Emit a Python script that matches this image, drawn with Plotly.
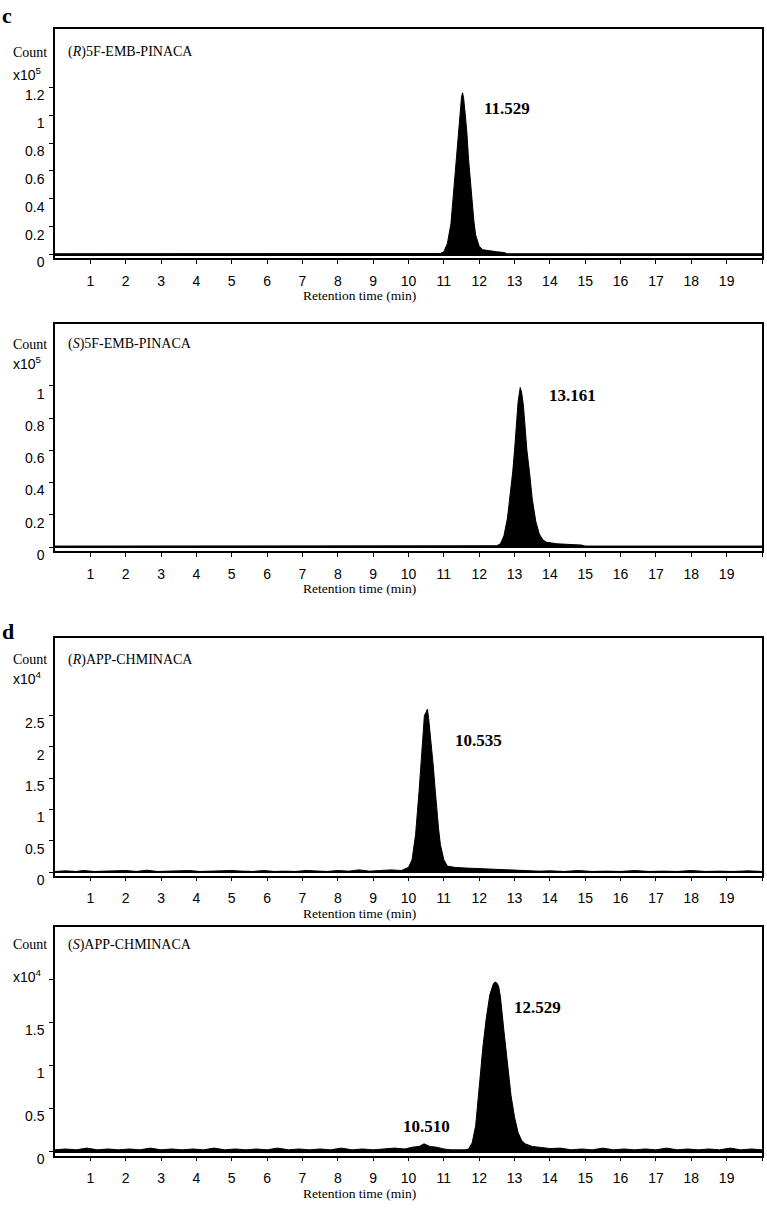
import plotly.graph_objects as go

W, H = 767, 1216

# ---- data ----
# panel c, top: (R)5F-EMB-PINACA, counts x10^5
r5f_time = [0.0, 3.0, 6.0, 9.0, 10.9, 11.0, 11.1, 11.2, 11.3, 11.35, 11.4, 11.45, 11.5, 11.53,
            11.56, 11.6, 11.65, 11.7, 11.75, 11.8, 11.85, 11.9, 12.0, 12.1, 12.3, 12.5, 12.7,
            12.8, 15.0, 18.0, 20.0]
r5f_count = [0.006, 0.006, 0.006, 0.006, 0.008, 0.02, 0.08, 0.22, 0.52, 0.68, 0.85, 1.02, 1.13, 1.16,
             1.12, 1.02, 0.88, 0.68, 0.52, 0.36, 0.24, 0.14, 0.06, 0.035, 0.025, 0.02, 0.015,
             0.006, 0.006, 0.006, 0.006]

# panel c, bottom: (S)5F-EMB-PINACA, counts x10^5
s5f_time = [0.0, 4.0, 8.0, 12.0, 12.5, 12.6, 12.7, 12.8, 12.9, 12.95, 13.0, 13.05, 13.1, 13.16,
            13.2, 13.25, 13.3, 13.35, 13.42, 13.5, 13.6, 13.7, 13.8, 13.9, 14.2, 14.6, 14.9,
            15.0, 17.0, 20.0]
s5f_count = [0.006, 0.006, 0.006, 0.006, 0.008, 0.02, 0.07, 0.18, 0.36, 0.47, 0.6, 0.76, 0.9, 0.99,
             0.96, 0.88, 0.74, 0.6, 0.47, 0.3, 0.16, 0.08, 0.045, 0.03, 0.02, 0.018, 0.012,
             0.006, 0.006, 0.006]

# panel d, top: (R)APP-CHMINACA, counts x10^4
rapp_time = [0.0, 0.3, 0.6, 0.8, 1.1, 1.4, 1.7, 2.0, 2.3, 2.6, 2.9, 3.2, 3.5, 3.8, 4.1, 4.4, 4.7,
             5.0, 5.3, 5.6, 5.9, 6.2, 6.5, 6.8, 7.1, 7.4, 7.7, 8.0, 8.3, 8.6, 8.9, 9.2, 9.5, 9.8,
             9.9, 10.0, 10.1, 10.2, 10.3, 10.35, 10.4, 10.45, 10.5, 10.535, 10.57, 10.6, 10.65,
             10.7, 10.75, 10.8, 10.85, 10.9, 11.0, 11.1, 11.3, 11.6, 12.0, 12.5, 13.0, 13.3,
             13.7, 14.0, 14.4, 14.8, 15.2, 15.6, 16.0, 16.4, 16.8, 17.2, 17.6, 18.0, 18.4,
             18.8, 19.2, 19.6, 20.0]
rapp_count = [0.015, 0.025, 0.015, 0.03, 0.015, 0.02, 0.015, 0.03, 0.015, 0.035, 0.015, 0.02, 0.015,
              0.03, 0.015, 0.02, 0.015, 0.03, 0.02, 0.015, 0.03, 0.015, 0.02, 0.015, 0.03, 0.02,
              0.015, 0.03, 0.02, 0.04, 0.02, 0.03, 0.04, 0.03, 0.05, 0.08, 0.2, 0.6, 1.3, 1.7,
              2.1, 2.5, 2.55, 2.6, 2.45, 2.3, 2.05, 1.7, 1.35, 1.0, 0.7, 0.45, 0.2, 0.1, 0.08,
              0.07, 0.06, 0.05, 0.035, 0.03, 0.02, 0.025, 0.015, 0.03, 0.015, 0.02, 0.015, 0.03,
              0.015, 0.02, 0.015, 0.03, 0.015, 0.02, 0.015, 0.025, 0.015]

# panel d, bottom: (S)APP-CHMINACA, counts x10^4
sapp_time = [0.0, 0.3, 0.6, 0.9, 1.2, 1.5, 1.8, 2.1, 2.4, 2.7, 3.0, 3.3, 3.6, 3.9, 4.2, 4.5, 4.8,
             5.1, 5.4, 5.7, 6.0, 6.3, 6.6, 6.9, 7.2, 7.5, 7.8, 8.1, 8.4, 8.7, 9.0, 9.3, 9.6, 9.9,
             10.1, 10.3, 10.44, 10.6, 10.8, 11.0, 11.2, 11.4, 11.6, 11.7, 11.8, 11.9, 12.0,
             12.05, 12.1, 12.2, 12.3, 12.4, 12.45, 12.5, 12.55, 12.6, 12.7, 12.81, 12.9, 13.0,
             13.1, 13.2, 13.3, 13.5, 13.8, 14.0, 14.3, 14.6, 14.9, 15.2, 15.5, 15.8, 16.1, 16.4,
             16.7, 17.0, 17.3, 17.6, 17.9, 18.2, 18.5, 18.8, 19.1, 19.4, 19.7, 20.0]
sapp_count = [0.02, 0.03, 0.02, 0.04, 0.02, 0.03, 0.02, 0.03, 0.02, 0.04, 0.02, 0.03, 0.02, 0.03,
              0.02, 0.04, 0.02, 0.03, 0.02, 0.03, 0.02, 0.04, 0.02, 0.03, 0.02, 0.03, 0.02, 0.04,
              0.02, 0.03, 0.02, 0.03, 0.04, 0.03, 0.05, 0.06, 0.09, 0.06, 0.05, 0.03, 0.02, 0.02,
              0.02, 0.03, 0.1, 0.3, 0.7, 0.97, 1.2, 1.55, 1.82, 1.95, 1.97, 1.96, 1.92, 1.8, 1.4,
              0.97, 0.65, 0.4, 0.22, 0.13, 0.09, 0.06, 0.05, 0.035, 0.04, 0.02, 0.03, 0.02, 0.04,
              0.02, 0.03, 0.02, 0.03, 0.02, 0.04, 0.02, 0.03, 0.02, 0.03, 0.02, 0.04, 0.02, 0.03,
              0.02]

time_ticks = list(range(1, 20))
time_labels = [str(t) for t in time_ticks]

SANS = "Liberation Sans"
SERIF = "Liberation Serif"

# one entry per panel: traces, y ticks and where things sit (pixels)
panels = [
    dict(t=r5f_time, c=r5f_count, top=29, bottom=261, yr=[-0.026, 1.62],
         yt=[0, 0.2, 0.4, 0.6, 0.8, 1, 1.2], ytl=["0", "0.2", "0.4", "0.6", "0.8", "1", "1.2"],
         yminor=[],
         name="(<i>R</i>)5F-EMB-PINACA", exp="x10<sup>5</sup>", cnt_dy=24, exp_dy=46,
         peaks=[("11.529", 12.79, 1.05)]),
    dict(t=s5f_time, c=s5f_count, top=327, bottom=557, yr=[-0.025, 1.387],
         yt=[0, 0.2, 0.4, 0.6, 0.8, 1], ytl=["0", "0.2", "0.4", "0.6", "0.8", "1"],
         yminor=[],
         name="(<i>S</i>)5F-EMB-PINACA", exp="x10<sup>5</sup>", cnt_dy=21, exp_dy=40,
         peaks=[("13.161", 14.65, 0.94)]),
    dict(t=rapp_time, c=rapp_count, top=645, bottom=885, yr=[-0.05, 3.73],
         yt=[0, 0.5, 1, 1.5, 2, 2.5], ytl=["0", "0.5", "1", "1.5", "2", "2.5"],
         yminor=[],
         name="(<i>R</i>)APP-CHMINACA", exp="x10<sup>4</sup>", cnt_dy=22, exp_dy=40,
         peaks=[("10.535", 11.97, 2.1)]),
    dict(t=sapp_time, c=sapp_count, top=937, bottom=1168, yr=[-0.046, 2.61],
         yt=[0, 0.5, 1, 1.5], ytl=["0", "0.5", "1", "1.5"],
         yminor=[2],
         name="(<i>S</i>)APP-CHMINACA", exp="x10<sup>4</sup>", cnt_dy=18, exp_dy=50,
         peaks=[("12.529", 13.66, 1.67), ("10.510", 10.5, 0.29)]),
]

X0, X1 = 55, 762


def px(x):
    return x / W


def py(y):
    return 1 - y / H


fig = go.Figure()
annotations = []
layout = {}

for i, p in enumerate(panels, start=1):
    sfx = "" if i == 1 else str(i)
    fig.add_trace(go.Scatter(
        x=p["t"], y=p["c"], mode="lines", fill="tozeroy",
        fillcolor="black", line=dict(color="black", width=1),
        xaxis="x" + sfx, yaxis="y" + sfx, showlegend=False, hoverinfo="x+y",
    ))
    layout["xaxis" + sfx] = dict(
        domain=[px(X0), px(X1)], range=[0, 20], anchor="y" + sfx,
        tickvals=time_ticks, ticktext=time_labels,
        ticks="outside", ticklen=4, tickwidth=1, tickcolor="black",
        minor=dict(tickvals=[20], ticks="outside", ticklen=4, tickwidth=1, tickcolor="black"),
        ticklabelstandoff=5,
        showline=True, linecolor="black", linewidth=1.5, mirror=True,
        showgrid=False, zeroline=False,
        tickfont=dict(family=SANS, size=14, color="black"),
    )
    layout["yaxis" + sfx] = dict(
        domain=[py(p["bottom"]), py(p["top"])], range=p["yr"], anchor="x" + sfx,
        tickvals=p["yt"], ticktext=p["ytl"],
        ticks="outside", ticklen=4, tickwidth=1, tickcolor="black",
        minor=dict(tickvals=p["yminor"], ticks="outside", ticklen=4, tickwidth=1,
                   tickcolor="black", showgrid=False),
        ticklabelshift=8, ticklabelstandoff=2,
        showline=True, linecolor="black", linewidth=1.5, mirror=True,
        showgrid=False, zeroline=True, zerolinecolor="black", zerolinewidth=2,
        tickfont=dict(family=SANS, size=14, color="black"),
    )

    # Count / multiplier labels to the left of the box
    annotations.append(dict(x=px(30), y=py(p["top"] + p["cnt_dy"]), xref="paper", yref="paper",
                            text="Count", showarrow=False, xanchor="center", yanchor="middle",
                            font=dict(family=SERIF, size=14, color="black")))
    annotations.append(dict(x=px(28), y=py(p["top"] + p["exp_dy"]), xref="paper", yref="paper",
                            text=p["exp"], showarrow=False, xanchor="center", yanchor="middle",
                            font=dict(family=SANS, size=14, color="black")))
    # compound name inside the box
    annotations.append(dict(x=px(66), y=py(p["top"] + p["cnt_dy"]), xref="paper", yref="paper",
                            text=p["name"], showarrow=False, xanchor="left", yanchor="middle",
                            font=dict(family=SERIF, size=14, color="black")))
    # axis title, sits left of centre like the instrument export
    annotations.append(dict(x=px(359), y=py(p["bottom"] + 38), xref="paper", yref="paper",
                            text="Retention time (min)", showarrow=False,
                            xanchor="center", yanchor="middle",
                            font=dict(family=SERIF, size=13.5, color="black")))
    # retention time labels
    for txt, xv, yv in p["peaks"]:
        annotations.append(dict(x=xv, y=yv, xref="x" + sfx, yref="y" + sfx,
                                text="<b>" + txt + "</b>", showarrow=False,
                                xanchor="center", yanchor="middle",
                                font=dict(family=SERIF, size=17, color="black")))

# panel letters
annotations.append(dict(x=px(0), y=py(16), xref="paper", yref="paper", text="<b>c</b>",
                        showarrow=False, xanchor="left", yanchor="middle",
                        font=dict(family=SERIF, size=22, color="black")))
annotations.append(dict(x=px(0), y=py(638), xref="paper", yref="paper", text="<b>d</b>",
                        showarrow=False, xanchor="left", yanchor="middle",
                        font=dict(family=SERIF, size=22, color="black")))

fig.update_layout(
    width=W, height=H,
    margin=dict(l=0, r=0, t=0, b=0),
    paper_bgcolor="white", plot_bgcolor="white",
    showlegend=False,
    annotations=annotations,
    **layout,
)

# drop the browser's default body margin so the figure fills the window exactly
fig.write_html("out.html", config={"displayModeBar": False},
               post_script="document.body.style.margin='0px';")
